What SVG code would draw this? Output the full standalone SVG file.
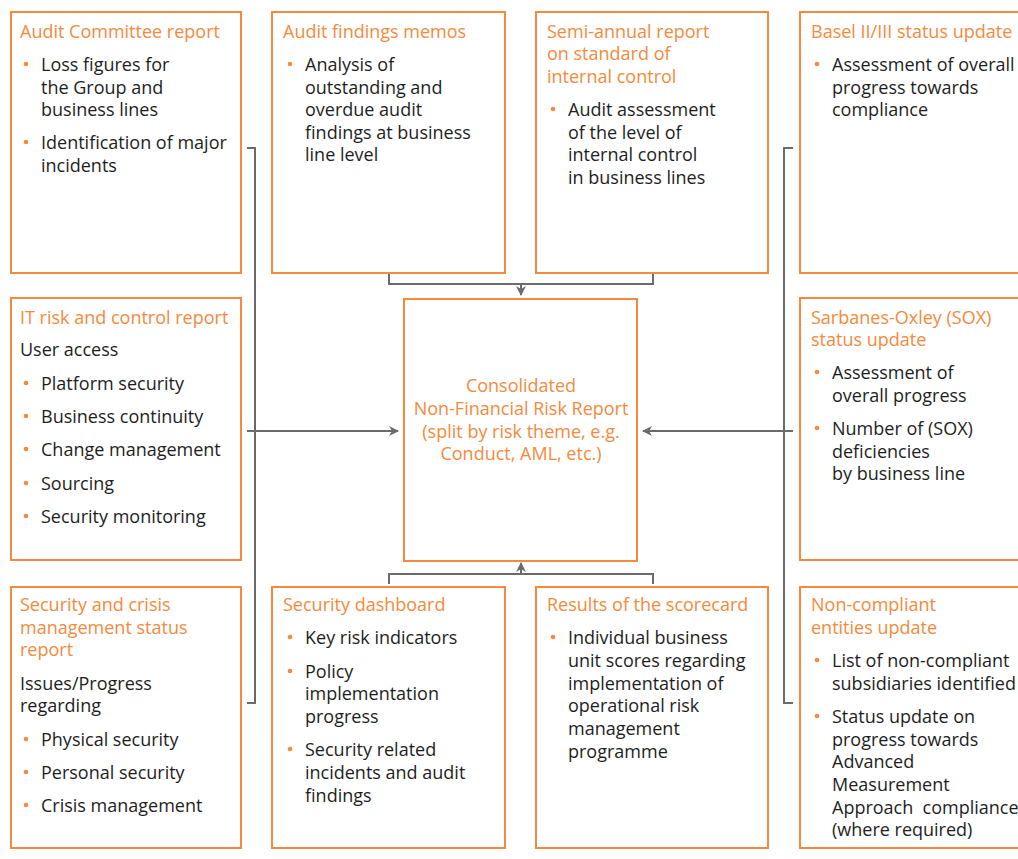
<svg xmlns="http://www.w3.org/2000/svg" width="1018" height="859" viewBox="0 0 1018 859">
  <style>
    .box { fill: #ffffff; stroke: #f58a3c; stroke-width: 2; }
    .title { font-family: "Open Sans", "Liberation Sans", sans-serif; font-size: 18px; fill: #f58a3c; }
    .body { font-family: "Open Sans", "Liberation Sans", sans-serif; font-size: 18px; fill: #1e1e1e; }
    .center { font-family: "Open Sans", "Liberation Sans", sans-serif; font-size: 18px; fill: #f58a3c; text-anchor: middle; }
    .dot { fill: #f58a3c; }
    .link { fill: none; stroke: #6b6b6b; stroke-width: 2; }
  </style>
  <defs>
    <marker id="arrow" viewBox="0 0 10 10" refX="9" refY="5" markerWidth="5" markerHeight="5" orient="auto" markerUnits="strokeWidth">
      <path d="M0,0 L10,5 L0,10 L3,5 Z" fill="#6b6b6b"/>
    </marker>
  </defs>
  <rect width="1018" height="859" fill="#ffffff"/>

  <g id="connectors">
    <!-- left bracket gathering the left column -->
    <path class="link" d="M247,148 H255 V703 H247"/>
    <path class="link" d="M247,431 H398" marker-end="url(#arrow)"/>
    <!-- right bracket gathering the right column -->
    <path class="link" d="M793,148 H784 V703 H793"/>
    <path class="link" d="M793,431 H643" marker-end="url(#arrow)"/>
    <!-- top pair -->
    <path class="link" d="M389,274 V284 H653 V274"/>
    <path class="link" d="M521,284 V295" marker-end="url(#arrow)"/>
    <!-- bottom pair -->
    <path class="link" d="M389,584 V574 H653 V584"/>
    <path class="link" d="M521,574 V563" marker-end="url(#arrow)"/>
  </g>

  <g id="audit-committee">
    <rect class="box" x="11" y="12" width="230" height="261"/>
    <text class="title" x="20" y="38">Audit Committee report</text>
    <circle class="dot" cx="26" cy="64" r="2.3"/>
    <text class="body" x="41" y="71">Loss figures for</text>
    <text class="body" x="41" y="94">the Group and</text>
    <text class="body" x="41" y="116">business lines</text>
    <circle class="dot" cx="26" cy="142" r="2.3"/>
    <text class="body" x="41" y="149">Identification of major</text>
    <text class="body" x="41" y="172">incidents</text>
  </g>

  <g id="audit-findings">
    <rect class="box" x="272" y="12" width="233" height="261"/>
    <text class="title" x="283" y="38">Audit findings memos</text>
    <circle class="dot" cx="290" cy="64" r="2.3"/>
    <text class="body" x="305" y="71">Analysis of</text>
    <text class="body" x="305" y="94">outstanding and</text>
    <text class="body" x="305" y="116">overdue audit</text>
    <text class="body" x="305" y="139">findings at business</text>
    <text class="body" x="305" y="161">line level</text>
  </g>

  <g id="semi-annual">
    <rect class="box" x="536" y="12" width="232" height="261"/>
    <text class="title" x="547" y="38">Semi-annual report</text>
    <text class="title" x="547" y="60">on standard of</text>
    <text class="title" x="547" y="83">internal control</text>
    <circle class="dot" cx="553" cy="109" r="2.3"/>
    <text class="body" x="568" y="116">Audit assessment</text>
    <text class="body" x="568" y="139">of the level of</text>
    <text class="body" x="568" y="161">internal control</text>
    <text class="body" x="568" y="184">in business lines</text>
  </g>

  <g id="basel">
    <rect class="box" x="800" y="12" width="240" height="261"/>
    <text class="title" x="811" y="38">Basel II/III status update</text>
    <circle class="dot" cx="817" cy="64" r="2.3"/>
    <text class="body" x="832" y="71">Assessment of overall</text>
    <text class="body" x="832" y="94">progress towards</text>
    <text class="body" x="832" y="116">compliance</text>
  </g>

  <g id="it-risk">
    <rect class="box" x="11" y="298" width="230" height="262"/>
    <text class="title" x="20" y="324">IT risk and control report</text>
    <text class="body" x="20" y="356">User access</text>
    <circle class="dot" cx="26" cy="383" r="2.3"/>
    <text class="body" x="41" y="390">Platform security</text>
    <circle class="dot" cx="26" cy="416" r="2.3"/>
    <text class="body" x="41" y="423">Business continuity</text>
    <circle class="dot" cx="26" cy="449" r="2.3"/>
    <text class="body" x="41" y="456">Change management</text>
    <circle class="dot" cx="26" cy="483" r="2.3"/>
    <text class="body" x="41" y="490">Sourcing</text>
    <circle class="dot" cx="26" cy="516" r="2.3"/>
    <text class="body" x="41" y="523">Security monitoring</text>
  </g>

  <g id="consolidated">
    <rect class="box" x="404" y="299" width="233" height="262"/>
    <text class="center" x="521" y="392">Consolidated</text>
    <text class="center" x="521" y="415">Non-Financial Risk Report</text>
    <text class="center" x="521" y="438">(split by risk theme, e.g.</text>
    <text class="center" x="521" y="460">Conduct, AML, etc.)</text>
  </g>

  <g id="sox">
    <rect class="box" x="800" y="298" width="240" height="262"/>
    <text class="title" x="811" y="324">Sarbanes-Oxley (SOX)</text>
    <text class="title" x="811" y="346">status update</text>
    <circle class="dot" cx="817" cy="372" r="2.3"/>
    <text class="body" x="832" y="379">Assessment of</text>
    <text class="body" x="832" y="402">overall progress</text>
    <circle class="dot" cx="817" cy="428" r="2.3"/>
    <text class="body" x="832" y="435">Number of (SOX)</text>
    <text class="body" x="832" y="458">deficiencies</text>
    <text class="body" x="832" y="480">by business line</text>
  </g>

  <g id="security-crisis">
    <rect class="box" x="11" y="587" width="230" height="261"/>
    <text class="title" x="20" y="611">Security and crisis</text>
    <text class="title" x="20" y="634">management status</text>
    <text class="title" x="20" y="656">report</text>
    <text class="body" x="20" y="690">Issues/Progress</text>
    <text class="body" x="20" y="712">regarding</text>
    <circle class="dot" cx="26" cy="739" r="2.3"/>
    <text class="body" x="41" y="746">Physical security</text>
    <circle class="dot" cx="26" cy="772" r="2.3"/>
    <text class="body" x="41" y="779">Personal security</text>
    <circle class="dot" cx="26" cy="805" r="2.3"/>
    <text class="body" x="41" y="812">Crisis management</text>
  </g>

  <g id="security-dashboard">
    <rect class="box" x="272" y="587" width="233" height="261"/>
    <text class="title" x="283" y="611">Security dashboard</text>
    <circle class="dot" cx="290" cy="637" r="2.3"/>
    <text class="body" x="305" y="644">Key risk indicators</text>
    <circle class="dot" cx="290" cy="671" r="2.3"/>
    <text class="body" x="305" y="678">Policy</text>
    <text class="body" x="305" y="700">implementation</text>
    <text class="body" x="305" y="723">progress</text>
    <circle class="dot" cx="290" cy="749" r="2.3"/>
    <text class="body" x="305" y="756">Security related</text>
    <text class="body" x="305" y="779">incidents and audit</text>
    <text class="body" x="305" y="802">findings</text>
  </g>

  <g id="scorecard">
    <rect class="box" x="536" y="587" width="232" height="261"/>
    <text class="title" x="547" y="611">Results of the scorecard</text>
    <circle class="dot" cx="553" cy="637" r="2.3"/>
    <text class="body" x="568" y="644">Individual business</text>
    <text class="body" x="568" y="667">unit scores regarding</text>
    <text class="body" x="568" y="690">implementation of</text>
    <text class="body" x="568" y="712">operational risk</text>
    <text class="body" x="568" y="735">management</text>
    <text class="body" x="568" y="758">programme</text>
  </g>

  <g id="non-compliant">
    <rect class="box" x="800" y="587" width="240" height="261"/>
    <text class="title" x="811" y="611">Non-compliant</text>
    <text class="title" x="811" y="634">entities update</text>
    <circle class="dot" cx="817" cy="660" r="2.3"/>
    <text class="body" x="832" y="667">List of non-compliant</text>
    <text class="body" x="832" y="690">subsidiaries identified</text>
    <circle class="dot" cx="817" cy="716" r="2.3"/>
    <text class="body" x="832" y="723">Status update on</text>
    <text class="body" x="832" y="746">progress towards</text>
    <text class="body" x="832" y="768">Advanced</text>
    <text class="body" x="832" y="791">Measurement</text>
    <text class="body" x="832" y="814" xml:space="preserve">Approach  compliance</text>
    <text class="body" x="832" y="836">(where required)</text>
  </g>
</svg>
